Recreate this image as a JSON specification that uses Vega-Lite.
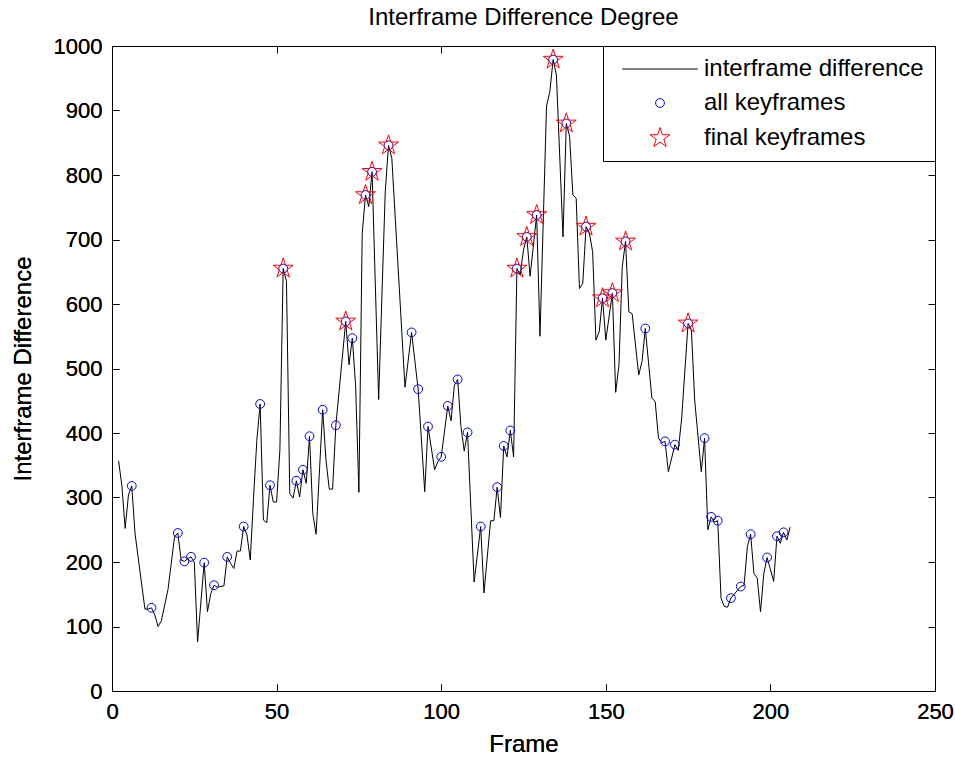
{
  "$schema": "https://vega.github.io/schema/vega-lite/v6.json",
  "autosize": "none",
  "width": 823,
  "height": 645,
  "padding": {"left": 112, "top": 46, "right": 20, "bottom": 66},
  "background": "white",
  "title": {"text": "Interframe Difference Degree", "fontSize": 24, "font": "Liberation Sans", "fontWeight": "normal", "color": "black", "offset": 5},
  "config": {
    "view": {"stroke": "black", "strokeWidth": 1},
    "axis": {"labelFont": "Liberation Sans", "labelFontSize": 22, "labelColor": "black", "titleFont": "Liberation Sans", "titleFontSize": 24, "titleFontWeight": "normal", "titleColor": "black", "grid": false, "domain": false, "ticks": true, "tickColor": "#000000", "tickWidth": 1, "tickOpacity": 1, "tickSize": 7, "offset": -7, "labelPadding": 10, "labelFlush": false, "labelOverlap": false, "zindex": 1}
  ,
    "legend": {"orient": "top-right", "offset": 0, "fillColor": "white", "strokeColor": "black", "padding": 11, "labelFont": "Liberation Sans", "labelFontSize": 24, "labelColor": "black", "labelLimit": 400, "symbolSize": 441, "symbolStrokeWidth": 1, "rowPadding": 10, "symbolOffset": 34, "labelOffset": 32, "title": null, "zindex": 2}
  },
  "data": {"values": [
    {"frame": 2, "diff": 357, "key": 0, "final": 0},
    {"frame": 3, "diff": 318, "key": 0, "final": 0},
    {"frame": 4, "diff": 252, "key": 0, "final": 0},
    {"frame": 5, "diff": 304, "key": 0, "final": 0},
    {"frame": 6, "diff": 318, "key": 1, "final": 0},
    {"frame": 7, "diff": 244, "key": 0, "final": 0},
    {"frame": 10, "diff": 127, "key": 0, "final": 0},
    {"frame": 11, "diff": 127, "key": 0, "final": 0},
    {"frame": 12, "diff": 129, "key": 1, "final": 0},
    {"frame": 13, "diff": 118, "key": 0, "final": 0},
    {"frame": 14, "diff": 100, "key": 0, "final": 0},
    {"frame": 15, "diff": 109, "key": 0, "final": 0},
    {"frame": 17, "diff": 157, "key": 0, "final": 0},
    {"frame": 19, "diff": 239, "key": 0, "final": 0},
    {"frame": 20, "diff": 245, "key": 1, "final": 0},
    {"frame": 21, "diff": 203, "key": 0, "final": 0},
    {"frame": 22, "diff": 201, "key": 1, "final": 0},
    {"frame": 23, "diff": 205, "key": 0, "final": 0},
    {"frame": 24, "diff": 208, "key": 1, "final": 0},
    {"frame": 25, "diff": 200, "key": 0, "final": 0},
    {"frame": 26, "diff": 76, "key": 0, "final": 0},
    {"frame": 28, "diff": 199, "key": 1, "final": 0},
    {"frame": 29, "diff": 123, "key": 0, "final": 0},
    {"frame": 30, "diff": 151, "key": 0, "final": 0},
    {"frame": 31, "diff": 164, "key": 1, "final": 0},
    {"frame": 32, "diff": 161, "key": 0, "final": 0},
    {"frame": 34, "diff": 163, "key": 0, "final": 0},
    {"frame": 35, "diff": 208, "key": 1, "final": 0},
    {"frame": 36, "diff": 198, "key": 0, "final": 0},
    {"frame": 37, "diff": 190, "key": 0, "final": 0},
    {"frame": 38, "diff": 217, "key": 0, "final": 0},
    {"frame": 39, "diff": 217, "key": 0, "final": 0},
    {"frame": 40, "diff": 255, "key": 1, "final": 0},
    {"frame": 41, "diff": 242, "key": 0, "final": 0},
    {"frame": 42, "diff": 203, "key": 0, "final": 0},
    {"frame": 43, "diff": 300, "key": 0, "final": 0},
    {"frame": 44, "diff": 389, "key": 0, "final": 0},
    {"frame": 45, "diff": 445, "key": 1, "final": 0},
    {"frame": 46, "diff": 265, "key": 0, "final": 0},
    {"frame": 47, "diff": 261, "key": 0, "final": 0},
    {"frame": 48, "diff": 319, "key": 1, "final": 0},
    {"frame": 49, "diff": 293, "key": 0, "final": 0},
    {"frame": 50, "diff": 293, "key": 0, "final": 0},
    {"frame": 51, "diff": 374, "key": 0, "final": 0},
    {"frame": 52, "diff": 655, "key": 1, "final": 1},
    {"frame": 53, "diff": 635, "key": 0, "final": 0},
    {"frame": 54, "diff": 306, "key": 0, "final": 0},
    {"frame": 55, "diff": 299, "key": 0, "final": 0},
    {"frame": 56, "diff": 326, "key": 1, "final": 0},
    {"frame": 57, "diff": 301, "key": 0, "final": 0},
    {"frame": 58, "diff": 343, "key": 1, "final": 0},
    {"frame": 59, "diff": 322, "key": 0, "final": 0},
    {"frame": 60, "diff": 395, "key": 1, "final": 0},
    {"frame": 61, "diff": 275, "key": 0, "final": 0},
    {"frame": 62, "diff": 243, "key": 0, "final": 0},
    {"frame": 64, "diff": 436, "key": 1, "final": 0},
    {"frame": 65, "diff": 358, "key": 0, "final": 0},
    {"frame": 66, "diff": 313, "key": 0, "final": 0},
    {"frame": 67, "diff": 313, "key": 0, "final": 0},
    {"frame": 68, "diff": 412, "key": 1, "final": 0},
    {"frame": 71, "diff": 573, "key": 1, "final": 1},
    {"frame": 72, "diff": 506, "key": 0, "final": 0},
    {"frame": 73, "diff": 547, "key": 1, "final": 0},
    {"frame": 74, "diff": 474, "key": 0, "final": 0},
    {"frame": 75, "diff": 308, "key": 0, "final": 0},
    {"frame": 76, "diff": 709, "key": 0, "final": 0},
    {"frame": 77, "diff": 769, "key": 1, "final": 1},
    {"frame": 78, "diff": 751, "key": 0, "final": 0},
    {"frame": 79, "diff": 805, "key": 1, "final": 1},
    {"frame": 81, "diff": 452, "key": 0, "final": 0},
    {"frame": 83, "diff": 774, "key": 0, "final": 0},
    {"frame": 84, "diff": 846, "key": 1, "final": 1},
    {"frame": 85, "diff": 826, "key": 0, "final": 0},
    {"frame": 89, "diff": 471, "key": 0, "final": 0},
    {"frame": 91, "diff": 556, "key": 1, "final": 0},
    {"frame": 93, "diff": 468, "key": 1, "final": 0},
    {"frame": 95, "diff": 309, "key": 0, "final": 0},
    {"frame": 96, "diff": 410, "key": 1, "final": 0},
    {"frame": 98, "diff": 343, "key": 0, "final": 0},
    {"frame": 99, "diff": 356, "key": 0, "final": 0},
    {"frame": 100, "diff": 363, "key": 1, "final": 0},
    {"frame": 102, "diff": 442, "key": 1, "final": 0},
    {"frame": 103, "diff": 419, "key": 0, "final": 0},
    {"frame": 104, "diff": 474, "key": 0, "final": 0},
    {"frame": 105, "diff": 483, "key": 1, "final": 0},
    {"frame": 106, "diff": 410, "key": 0, "final": 0},
    {"frame": 107, "diff": 372, "key": 0, "final": 0},
    {"frame": 108, "diff": 401, "key": 1, "final": 0},
    {"frame": 110, "diff": 169, "key": 0, "final": 0},
    {"frame": 112, "diff": 255, "key": 1, "final": 0},
    {"frame": 113, "diff": 152, "key": 0, "final": 0},
    {"frame": 115, "diff": 264, "key": 0, "final": 0},
    {"frame": 116, "diff": 264, "key": 0, "final": 0},
    {"frame": 117, "diff": 316, "key": 1, "final": 0},
    {"frame": 118, "diff": 269, "key": 0, "final": 0},
    {"frame": 119, "diff": 380, "key": 1, "final": 0},
    {"frame": 120, "diff": 363, "key": 0, "final": 0},
    {"frame": 121, "diff": 404, "key": 1, "final": 0},
    {"frame": 122, "diff": 363, "key": 0, "final": 0},
    {"frame": 123, "diff": 655, "key": 1, "final": 1},
    {"frame": 124, "diff": 645, "key": 0, "final": 0},
    {"frame": 125, "diff": 684, "key": 0, "final": 0},
    {"frame": 126, "diff": 704, "key": 1, "final": 1},
    {"frame": 127, "diff": 643, "key": 0, "final": 0},
    {"frame": 129, "diff": 738, "key": 1, "final": 1},
    {"frame": 130, "diff": 550, "key": 0, "final": 0},
    {"frame": 132, "diff": 907, "key": 0, "final": 0},
    {"frame": 133, "diff": 929, "key": 0, "final": 0},
    {"frame": 134, "diff": 979, "key": 1, "final": 1},
    {"frame": 135, "diff": 955, "key": 0, "final": 0},
    {"frame": 137, "diff": 704, "key": 0, "final": 0},
    {"frame": 138, "diff": 880, "key": 1, "final": 1},
    {"frame": 139, "diff": 860, "key": 0, "final": 0},
    {"frame": 140, "diff": 769, "key": 0, "final": 0},
    {"frame": 141, "diff": 764, "key": 0, "final": 0},
    {"frame": 142, "diff": 624, "key": 0, "final": 0},
    {"frame": 143, "diff": 632, "key": 0, "final": 0},
    {"frame": 144, "diff": 720, "key": 1, "final": 1},
    {"frame": 145, "diff": 710, "key": 0, "final": 0},
    {"frame": 146, "diff": 681, "key": 0, "final": 0},
    {"frame": 147, "diff": 544, "key": 0, "final": 0},
    {"frame": 148, "diff": 557, "key": 0, "final": 0},
    {"frame": 149, "diff": 609, "key": 1, "final": 1},
    {"frame": 150, "diff": 544, "key": 0, "final": 0},
    {"frame": 152, "diff": 617, "key": 1, "final": 1},
    {"frame": 153, "diff": 463, "key": 0, "final": 0},
    {"frame": 154, "diff": 505, "key": 0, "final": 0},
    {"frame": 155, "diff": 658, "key": 0, "final": 0},
    {"frame": 156, "diff": 697, "key": 1, "final": 1},
    {"frame": 157, "diff": 588, "key": 0, "final": 0},
    {"frame": 158, "diff": 585, "key": 0, "final": 0},
    {"frame": 160, "diff": 490, "key": 0, "final": 0},
    {"frame": 161, "diff": 511, "key": 0, "final": 0},
    {"frame": 162, "diff": 562, "key": 1, "final": 0},
    {"frame": 164, "diff": 454, "key": 0, "final": 0},
    {"frame": 165, "diff": 449, "key": 0, "final": 0},
    {"frame": 166, "diff": 392, "key": 0, "final": 0},
    {"frame": 167, "diff": 385, "key": 0, "final": 0},
    {"frame": 168, "diff": 387, "key": 1, "final": 0},
    {"frame": 169, "diff": 340, "key": 0, "final": 0},
    {"frame": 171, "diff": 382, "key": 1, "final": 0},
    {"frame": 172, "diff": 373, "key": 0, "final": 0},
    {"frame": 173, "diff": 420, "key": 0, "final": 0},
    {"frame": 175, "diff": 570, "key": 1, "final": 1},
    {"frame": 176, "diff": 560, "key": 0, "final": 0},
    {"frame": 177, "diff": 451, "key": 0, "final": 0},
    {"frame": 179, "diff": 340, "key": 0, "final": 0},
    {"frame": 180, "diff": 392, "key": 1, "final": 0},
    {"frame": 181, "diff": 250, "key": 0, "final": 0},
    {"frame": 182, "diff": 270, "key": 1, "final": 0},
    {"frame": 183, "diff": 262, "key": 0, "final": 0},
    {"frame": 184, "diff": 264, "key": 1, "final": 0},
    {"frame": 185, "diff": 144, "key": 0, "final": 0},
    {"frame": 186, "diff": 131, "key": 0, "final": 0},
    {"frame": 187, "diff": 130, "key": 0, "final": 0},
    {"frame": 188, "diff": 144, "key": 1, "final": 0},
    {"frame": 191, "diff": 162, "key": 1, "final": 0},
    {"frame": 192, "diff": 164, "key": 0, "final": 0},
    {"frame": 193, "diff": 224, "key": 0, "final": 0},
    {"frame": 194, "diff": 243, "key": 1, "final": 0},
    {"frame": 195, "diff": 182, "key": 0, "final": 0},
    {"frame": 196, "diff": 175, "key": 0, "final": 0},
    {"frame": 197, "diff": 123, "key": 0, "final": 0},
    {"frame": 198, "diff": 182, "key": 0, "final": 0},
    {"frame": 199, "diff": 207, "key": 1, "final": 0},
    {"frame": 201, "diff": 170, "key": 0, "final": 0},
    {"frame": 202, "diff": 240, "key": 1, "final": 0},
    {"frame": 203, "diff": 229, "key": 0, "final": 0},
    {"frame": 204, "diff": 246, "key": 1, "final": 0},
    {"frame": 205, "diff": 234, "key": 0, "final": 0},
    {"frame": 206, "diff": 254, "key": 0, "final": 0}
  ]},
  "encoding": {
    "x": {"field": "frame", "type": "quantitative", "scale": {"domain": [0, 250], "nice": false}, "axis": {"values": [0, 50, 100, 150, 200, 250], "title": "Frame", "titlePadding": 10}},
    "y": {"field": "diff", "type": "quantitative", "scale": {"domain": [0, 1000], "nice": false}, "axis": {"values": [0, 100, 200, 300, 400, 500, 600, 700, 800, 900, 1000], "format": "d", "title": "Interframe Difference", "titlePadding": 18}}
  },
  "resolve": {"axis": {"x": "independent", "y": "independent"}},
  "layer": [
    {
      "mark": {"type": "line", "strokeWidth": 1, "clip": true},
      "encoding": {
        "color": {"datum": "interframe difference", "type": "nominal", "scale": {"domain": ["interframe difference", "all keyframes", "final keyframes"], "range": ["black", "blue", "red"]}}
      }
    },
    {
      "transform": [{"filter": "datum.key == 1"}],
      "mark": {"type": "point", "filled": false, "size": 441, "strokeWidth": 1, "opacity": 1},
      "encoding": {
        "x": {"field": "frame", "type": "quantitative", "axis": {"orient": "top", "values": [0, 50, 100, 150, 200, 250], "labels": false, "title": null}},
        "y": {"field": "diff", "type": "quantitative", "axis": {"orient": "right", "values": [0, 100, 200, 300, 400, 500, 600, 700, 800, 900, 1000], "labels": false, "title": null}},
        "color": {"datum": "all keyframes", "type": "nominal"},
        "shape": {"datum": "all keyframes", "type": "nominal", "scale": {"domain": ["interframe difference", "all keyframes", "final keyframes"], "range": ["M-3.6,0L3.6,0", "M0.42,0A0.42,0.42 0 1,1 -0.42,0A0.42,0.42 0 1,1 0.42,0Z", "M0,-1L0.225,-0.309L0.951,-0.309L0.363,0.118L0.588,0.809L0,0.382L-0.588,0.809L-0.363,0.118L-0.951,-0.309L-0.225,-0.309Z"]}}
      }
    },
    {
      "transform": [{"filter": "datum.final == 1"}],
      "mark": {"type": "point", "filled": false, "size": 441, "strokeWidth": 1, "opacity": 1},
      "encoding": {
        "color": {"datum": "final keyframes", "type": "nominal"},
        "shape": {"datum": "final keyframes", "type": "nominal"}
      }
    }
  ]
}
